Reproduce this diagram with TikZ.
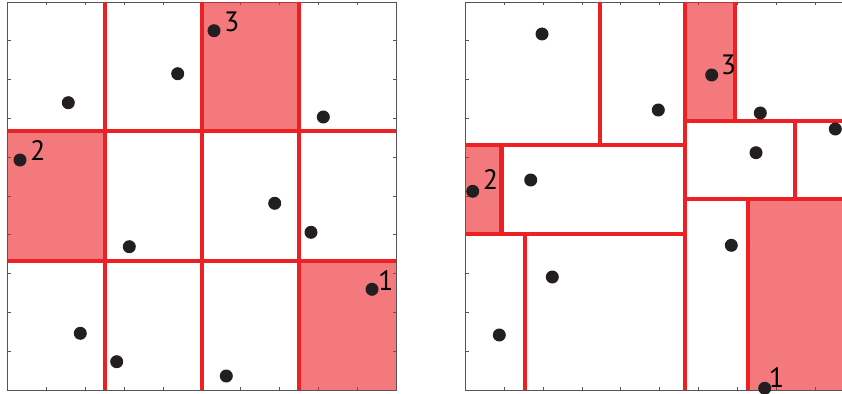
\documentclass[tikz,border=0pt]{standalone}
\usepackage{fontspec}
\newfontfamily\labfont{PT Sans}
\definecolor{redc}{RGB}{237,32,36}
\definecolor{dotc}{RGB}{35,31,32}
\definecolor{axc}{RGB}{85,85,85}
\tikzset{
  dot/.style={circle, fill=dotc, inner sep=0pt, minimum size=13pt},
  lab/.style={font=\labfont\fontsize{28}{28}\selectfont, inner sep=0pt, anchor=base west},
  cellfill/.style={fill=redc, fill opacity=0.6},
  split/.style={draw=redc, line width=4.3pt},
  axis/.style={draw=axc, line width=0.9pt},
  tickmark/.style={draw=axc, line width=0.9pt}
}
\begin{document}
\begin{tikzpicture}[x=1pt,y=-1pt]
\useasboundingbox (0,0) rectangle (842,393);
\clip (0,0) rectangle (842,393);
% ---------- axes and ticks ----------
\foreach \ox in {7.5,465.3}{
  \draw[axis] (\ox,2) rectangle (\ox+388.8,390);
  \foreach \k in {1,...,9}{
    \draw[tickmark] (\ox+38.88*\k,2) -- ++(0,3.5);
    \draw[tickmark] (\ox+38.88*\k,390) -- ++(0,-3.5);
    \draw[tickmark] (\ox,2+38.8*\k) -- ++(3.5,0);
    \draw[tickmark] (\ox+388.8,2+38.8*\k) -- ++(-3.5,0);
  }
}
% ---------- left panel ----------
\fill[cellfill] (202.2,2) rectangle (299.1,131.3);
\fill[cellfill] (7.5,131.3) rectangle (104.7,260.7);
\fill[cellfill] (299.1,260.7) rectangle (396.3,390);
\draw[split] (104.7,2) -- (104.7,390);
\draw[split] (202.2,2) -- (202.2,390);
\draw[split] (299.1,2) -- (299.1,390);
\draw[split] (7.5,131.3) -- (396.3,131.3);
\draw[split] (7.5,260.7) -- (396.3,260.7);
% ---------- right panel ----------
\fill[cellfill] (685.3,2) rectangle (734.7,121);
\fill[cellfill] (465.3,145) rectangle (501.5,234);
\fill[cellfill] (748.3,199) rectangle (854.1,390);
\draw[split] (600.3,2) -- (600.3,145);
\draw[split] (685.3,2) -- (685.3,390);
\draw[split] (734.7,2) -- (734.7,121);
\draw[split] (685.3,121) -- (854.1,121);
\draw[split] (795.3,121) -- (795.3,199);
\draw[split] (685.3,199) -- (854.1,199);
\draw[split] (465.3,145) -- (685.3,145);
\draw[split] (501.5,145) -- (501.5,234);
\draw[split] (465.3,234) -- (685.3,234);
\draw[split] (525.3,234) -- (525.3,390);
\draw[split] (748.3,199) -- (748.3,390);
% ---------- left panel points ----------
\node[dot] (a1) at (68.3,102.7) {};
\node[dot] (a2) at (177.7,73.7) {};
\node[dot] (a3) at (214,30.7) {};
\node[dot] (a4) at (323.3,117) {};
\node[dot] (a5) at (20,160) {};
\node[dot] (a6) at (274.7,203.3) {};
\node[dot] (a7) at (311,232.3) {};
\node[dot] (a8) at (129.3,246.7) {};
\node[dot] (a9) at (372,289.3) {};
\node[dot] (a10) at (80.3,333.3) {};
\node[dot] (a11) at (116.7,361.7) {};
\node[dot] (a12) at (226.3,376) {};
\node[lab] (ta3) at ([xshift=10pt,yshift=-1pt]a3.center) {3};
\node[lab] (ta5) at ([xshift=10pt]a5.center) {2};
\node[lab] (ta9) at ([xshift=6pt,yshift=-1pt]a9.center) {1};
% ---------- right panel points ----------
\node[dot] (b1) at (542,34) {};
\node[dot] (b2) at (658.3,110) {};
\node[dot] (b3) at (711.7,75) {};
\node[dot] (b4) at (760.3,113) {};
\node[dot] (b5) at (835.3,129) {};
\node[dot] (b6) at (756,152.7) {};
\node[dot] (b7) at (530.7,180) {};
\node[dot] (b8) at (472.7,191.3) {};
\node[dot] (b9) at (731.3,245.3) {};
\node[dot] (b10) at (552.3,277) {};
\node[dot] (b11) at (499.3,335) {};
\node[dot] (b12) at (764.7,388.3) {};
\node[lab] (tb3) at ([xshift=9pt]b3.center) {3};
\node[lab] (tb8) at ([xshift=10pt,yshift=1.5pt]b8.center) {2};
\node[lab] (tb12) at ([xshift=4pt,yshift=1pt]b12.center) {1};
\end{tikzpicture}
\end{document}
